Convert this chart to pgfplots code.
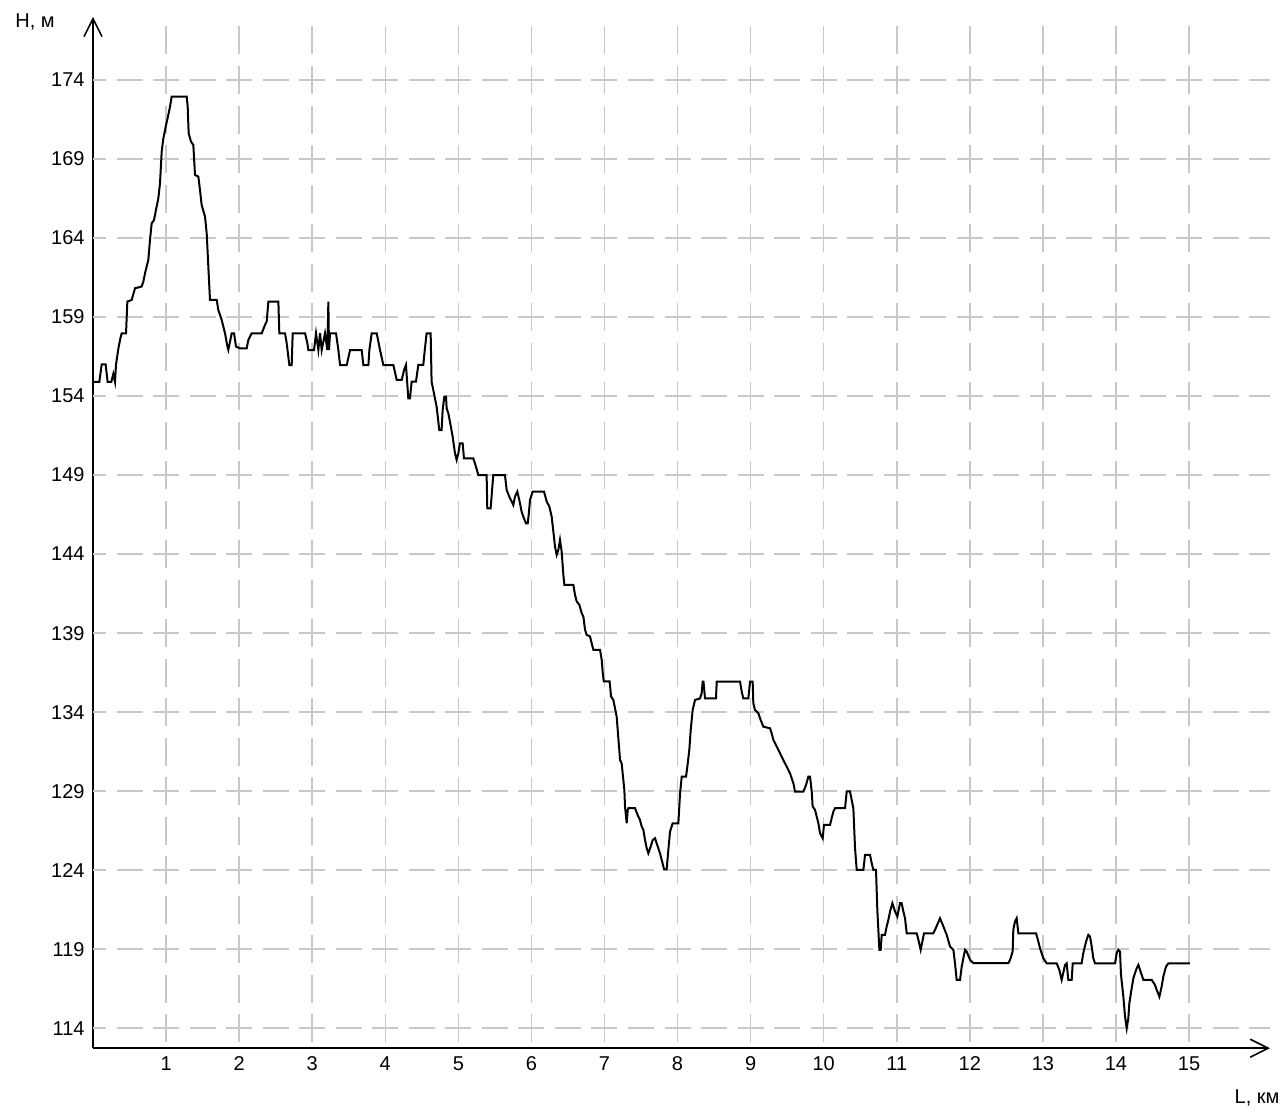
\documentclass[border=0pt]{standalone}
\usepackage{fontspec}
\setmainfont{Liberation Sans}
\usepackage{pgfplots}
\pgfplotsset{compat=1.18}
\usetikzlibrary{arrows.meta}
\definecolor{gridc}{RGB}{200,200,200}
\begin{document}
\begin{tikzpicture}
\begin{axis}[
  x=36.535pt, y=7.9025pt,
  xmin=0, xmax=16.108, ymin=112.735, ymax=177.99,
  axis lines=left,
  axis line style={line width=1pt},
  x axis line style={-{Straight Barb[length=9pt,width=9pt,line width=0.8pt]}},
  y axis line style={-{Straight Barb[length=9pt,width=9pt,line width=0.8pt]}},
  xtick={1,...,15}, ytick={114,119,...,174},
  major tick length=0pt,
  tick style={draw=none},
  /pgf/number format/assume math mode=true,
  ticklabel style={font=\fontsize{10}{12}\selectfont},
  xticklabel style={anchor=north, inner sep=0pt, yshift=-4pt},
  yticklabel style={anchor=east, inner sep=0pt, xshift=-4pt},
  clip=false,
]
\pgfplotsinvokeforeach{1,...,15}{
  \draw[gridc, line width=0.75pt, dash pattern=on 14pt off 5.755pt, dash phase=16.755pt] (axis cs:#1,112.735) -- (axis cs:#1,177.99);
}
\pgfplotsinvokeforeach{114,119,...,174}{
  \draw[gridc, line width=0.75pt, dash pattern=on 13pt off 5.2675pt, dash phase=6.5pt] (axis cs:0,#1) -- (axis cs:16.108,#1);
}
\addplot[black, line width=1pt, mark=none] coordinates {
(0.000,154.9)(0.087,154.9)(0.119,156.0)(0.173,156.0)(0.200,154.9)(0.251,154.9)(0.278,155.4)(0.301,154.9)(0.315,156.0)(0.347,157.0)
(0.370,157.55)(0.392,157.97)(0.452,157.97)(0.470,159.98)(0.529,160.08)(0.575,160.82)(0.666,160.93)(0.689,161.24)(0.712,161.77)(0.757,162.61)
(0.780,163.88)(0.803,164.93)(0.835,165.14)(0.862,165.78)(0.894,166.51)(0.917,167.46)(0.940,169.47)(0.963,170.31)(1.000,171.15)(1.031,171.79)
(1.054,172.31)(1.077,172.95)(1.282,172.95)(1.296,172.31)(1.309,170.63)(1.341,170.10)(1.373,169.89)(1.396,167.99)(1.442,167.88)(1.464,167.04)
(1.487,166.09)(1.533,165.35)(1.556,164.30)(1.601,160.08)(1.693,160.08)(1.715,159.45)(1.761,158.82)(1.807,157.97)(1.839,157.13)(1.852,156.92)
(1.898,157.97)(1.930,157.97)(1.957,157.13)(2.012,157.02)(2.103,157.02)(2.126,157.55)(2.172,157.97)(2.309,157.97)(2.354,158.50)(2.377,158.71)
(2.400,159.97)(2.537,159.97)(2.550,157.97)(2.628,157.97)(2.651,157.34)(2.687,155.96)(2.719,155.96)(2.733,157.97)(2.902,157.97)(2.934,157.34)
(2.947,156.91)(3.025,156.91)(3.052,157.97)(3.084,156.91)(3.107,157.97)(3.130,156.91)(3.175,157.97)(3.207,156.91)(3.221,159.97)(3.230,156.91)
(3.244,157.97)(3.326,157.97)(3.358,156.91)(3.381,155.96)(3.472,155.96)(3.518,156.91)(3.677,156.91)(3.700,155.96)(3.769,155.96)(3.782,156.91)
(3.814,157.97)(3.883,157.97)(3.928,156.91)(3.974,155.96)(4.111,155.96)(4.156,155.02)(4.225,155.02)(4.257,155.65)(4.283,155.97)(4.315,153.86)
(4.338,153.86)(4.361,154.91)(4.420,154.91)(4.452,155.97)(4.520,155.97)(4.543,157.02)(4.566,157.97)(4.621,157.97)(4.634,154.91)(4.657,154.38)
(4.680,153.86)(4.703,153.33)(4.739,151.85)(4.771,151.85)(4.785,153.12)(4.808,153.96)(4.831,153.96)(4.840,153.22)(4.863,152.91)(4.885,152.38)
(4.922,151.43)(4.954,150.38)(4.977,149.96)(5.000,150.38)(5.022,151.01)(5.059,151.01)(5.077,150.06)(5.205,150.06)(5.241,149.53)(5.273,149.00)
(5.387,149.00)(5.396,146.90)(5.442,146.90)(5.478,149.00)(5.638,149.00)(5.661,148.06)(5.697,147.64)(5.752,147.11)(5.775,147.64)(5.807,147.95)
(5.834,147.42)(5.866,146.69)(5.889,146.37)(5.925,145.95)(5.950,145.95)(5.965,146.60)(5.981,147.43)(6.017,147.96)(6.172,147.96)(6.209,147.33)
(6.245,147.01)(6.277,146.38)(6.300,145.43)(6.323,144.48)(6.346,143.95)(6.369,144.27)(6.391,144.90)(6.414,144.16)(6.437,142.69)(6.451,142.05)
(6.574,142.05)(6.597,141.42)(6.620,141.00)(6.656,140.79)(6.688,140.26)(6.711,140.05)(6.734,139.21)(6.756,138.89)(6.802,138.79)(6.825,138.36)
(6.848,137.94)(6.939,137.94)(6.962,137.31)(6.975,136.55)(6.990,135.94)(7.070,135.94)(7.090,134.99)(7.121,134.78)(7.144,134.25)(7.167,133.70)
(7.190,132.34)(7.213,130.97)(7.235,130.76)(7.258,129.71)(7.272,129.08)(7.281,128.02)(7.304,126.97)(7.318,127.81)(7.327,127.92)(7.418,127.92)
(7.463,127.39)(7.486,127.18)(7.509,126.76)(7.532,126.55)(7.555,125.91)(7.578,125.39)(7.600,125.07)(7.632,125.49)(7.660,125.91)(7.692,126.02)
(7.714,125.70)(7.760,125.07)(7.783,124.65)(7.815,124.06)(7.851,124.06)(7.874,125.28)(7.897,126.44)(7.933,126.97)(8.011,126.97)(8.034,128.86)
(8.057,129.92)(8.116,129.92)(8.134,130.55)(8.161,131.61)(8.180,132.87)(8.207,134.14)(8.239,134.77)(8.307,134.87)(8.330,135.19)(8.344,135.93)
(8.355,135.93)(8.376,134.87)(8.526,134.87)(8.536,135.93)(8.855,135.93)(8.878,135.30)(8.900,134.87)(8.969,134.87)(8.992,135.93)(9.028,135.93)
(9.037,134.56)(9.060,134.14)(9.106,133.93)(9.129,133.61)(9.174,133.08)(9.266,132.98)(9.288,132.66)(9.311,132.24)(9.357,131.82)(9.402,131.40)
(9.448,130.97)(9.494,130.55)(9.539,130.13)(9.585,129.50)(9.608,128.97)(9.722,128.97)(9.758,129.39)(9.790,129.92)(9.813,129.92)(9.836,128.97)
(9.849,128.03)(9.881,127.82)(9.904,127.40)(9.927,126.97)(9.950,126.34)(9.986,126.02)(10.004,126.87)(10.087,126.87)(10.109,127.29)(10.132,127.71)
(10.155,127.92)(10.292,127.92)(10.315,128.98)(10.360,128.98)(10.383,128.45)(10.406,127.92)(10.429,125.39)(10.452,124.02)(10.543,124.02)(10.566,124.97)
(10.634,124.97)(10.657,124.44)(10.680,124.02)(10.716,124.02)(10.734,121.49)(10.762,118.96)(10.780,118.96)(10.794,119.91)(10.839,119.91)(10.862,120.44)
(10.885,120.86)(10.908,121.39)(10.940,121.91)(10.976,121.39)(11.008,121.07)(11.045,121.91)(11.067,121.91)(11.090,121.39)(11.113,120.96)(11.136,120.01)
(11.273,120.01)(11.296,119.59)(11.327,118.96)(11.355,119.59)(11.373,120.01)(11.501,120.01)(11.524,120.23)(11.592,120.96)(11.638,120.44)(11.683,119.91)
(11.729,119.17)(11.775,118.96)(11.797,118.12)(11.820,117.06)(11.866,117.06)(11.889,117.90)(11.934,118.96)(11.957,118.85)(12.003,118.33)(12.048,118.12)
(12.527,118.12)(12.550,118.32)(12.586,118.85)(12.595,120.22)(12.618,120.75)(12.641,120.96)(12.664,120.01)(12.906,120.01)(12.938,119.48)(12.960,119.06)
(12.983,118.75)(13.006,118.43)(13.052,118.11)(13.189,118.11)(13.225,117.69)(13.257,117.06)(13.303,118.01)(13.325,118.11)(13.348,117.06)(13.394,117.06)
(13.408,118.11)(13.530,118.11)(13.553,118.75)(13.590,119.48)(13.622,119.91)(13.645,119.80)(13.668,119.17)(13.690,118.43)(13.713,118.11)(13.987,118.11)
(14.010,118.75)(14.033,118.96)(14.055,118.85)(14.069,117.37)(14.101,116.00)(14.124,114.74)(14.147,114.00)(14.169,114.63)(14.183,115.58)(14.215,116.53)
(14.238,117.16)(14.283,117.80)(14.306,118.01)(14.329,117.69)(14.375,117.06)(14.489,117.06)(14.534,116.74)(14.557,116.43)(14.594,116.00)(14.625,116.64)
(14.648,117.27)(14.685,117.90)(14.717,118.11)(15.013,118.11)
};
\node[font=\fontsize{10}{12}\selectfont] at (axis cs:-0.794,177.67) {H, м};
\node[font=\fontsize{10}{12}\selectfont] at (axis cs:15.93,109.59) {L, км};
\coordinate (bl) at (axis cs:-1.2728,108.70);
\coordinate (tr) at (axis cs:16.327,179.06);
\end{axis}
\pgfresetboundingbox
\path[use as bounding box] (bl) rectangle (tr);
\end{tikzpicture}
\end{document}
